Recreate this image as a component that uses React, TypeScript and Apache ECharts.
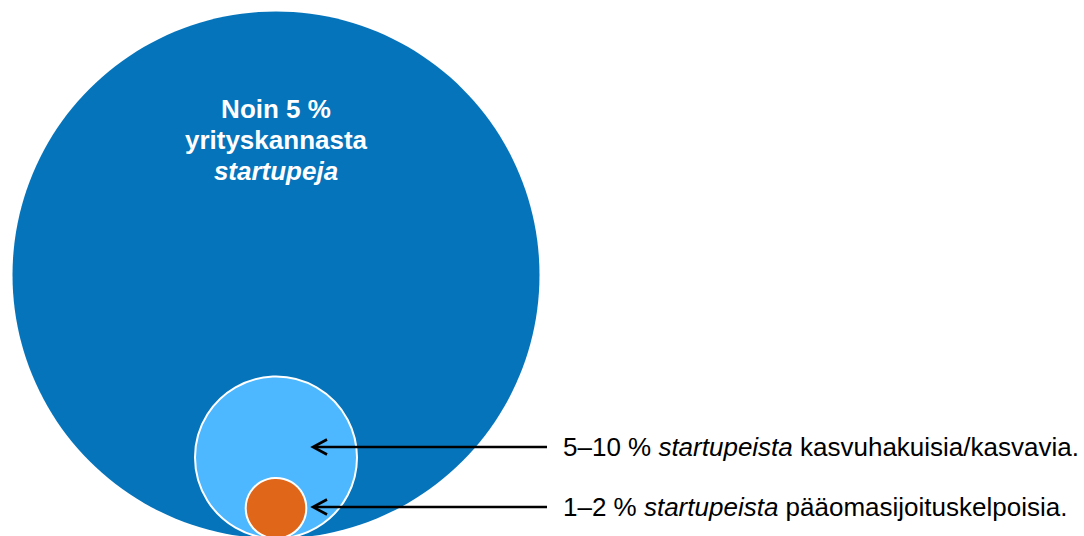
import React, { useEffect, useRef } from "react";
import * as echarts from "echarts";

// Nested circles, all touching at one bottom point (data units = px of a 1084x536 canvas)
const circleNames = ["Yrityskanta", "Kasvuhakuiset", "Pääomasijoituskelpoiset"];
const circleRadii = [263.5, 81, 30.3];
const circleColors = ["#0574BB", "#4DB8FF", "#E0661A"];
const tangentX = 276;
const tangentY = 538.5;

// Annotation arrows (y position in data units) and their labels
const arrowY = [447, 507];
const arrowTipX = 313;
const arrowTailX = 547;
const labelPrefix = ["5–10 %", "1–2 %"];
const labelItalic = ["startupeista", "startupeista"];
const labelSuffix = ["kasvuhakuisia/kasvavia.", "pääomasijoituskelpoisia."];

const titleLines = ["Noin 5 %", "yrityskannasta", "startupeja"];

const FONT = "'Liberation Sans', Arial, Helvetica, sans-serif";

export default function App() {
  const ref = useRef<HTMLDivElement>(null);
  useEffect(() => {
    document.body.style.margin = "0";
    const chart = echarts.init(ref.current!, null, { renderer: "svg" });
    const circleData = circleRadii.map((r, i) => ({ name: circleNames[i], value: [r, i] }));
    const arrowData = arrowY.map((y, i) => ({ value: [y, i] }));
    chart.setOption({
      animation: false,
      backgroundColor: "#ffffff",
      grid: { left: 0, right: 0, top: 0, bottom: 0 },
      xAxis: { type: "value", min: 0, max: 1084, show: false },
      yAxis: { type: "value", min: 0, max: 536, inverse: true, show: false },
      series: [
        {
          type: "custom",
          coordinateSystem: "cartesian2d",
          clip: false,
          data: circleData,
          renderItem: (params: any, api: any) => {
            const r = api.value(0);
            const i = api.value(1);
            const c = api.coord([tangentX, tangentY - r]);
            const rp = api.size([r, r])[0];
            const children: any[] = [
              {
                type: "circle",
                shape: { cx: c[0], cy: c[1], r: rp },
                style: {
                  fill: circleColors[i],
                  stroke: i === 0 ? null : "#ffffff",
                  lineWidth: i === 0 ? 0 : 2,
                },
              },
            ];
            if (i === 0) {
              const top = api.coord([tangentX, tangentY - 2 * r]);
              children.push({
                type: "text",
                x: c[0],
                y: top[1] + 82,
                style: {
                  text:
                    "{b|" + titleLines[0] + "}\n{b|" + titleLines[1] + "}\n{bi|" + titleLines[2] + "}",
                  align: "center",
                  verticalAlign: "top",
                  rich: {
                    b: { fontFamily: FONT, fontSize: 26, fontWeight: "bold", fill: "#ffffff", lineHeight: 31, align: "center" },
                    bi: {
                      fontFamily: FONT,
                      fontSize: 26,
                      fontWeight: "bold",
                      fontStyle: "italic",
                      fill: "#ffffff",
                      lineHeight: 31,
                      align: "center",
                    },
                  },
                },
              });
            }
            return { type: "group", children };
          },
        },
        {
          type: "custom",
          coordinateSystem: "cartesian2d",
          clip: false,
          data: arrowData,
          renderItem: (params: any, api: any) => {
            const y = api.value(0);
            const i = api.value(1);
            const tip = api.coord([arrowTipX, y]);
            const tail = api.coord([arrowTailX, y]);
            return {
              type: "group",
              children: [
                {
                  type: "line",
                  shape: { x1: tip[0] + 1, y1: tip[1], x2: tail[0], y2: tail[1] },
                  style: { stroke: "#000000", lineWidth: 2.5 },
                },
                {
                  type: "polyline",
                  shape: { points: [[tip[0] + 14, tip[1] - 7.5], [tip[0], tip[1]], [tip[0] + 14, tip[1] + 7.5]] },
                  style: { stroke: "#000000", lineWidth: 2.6, fill: null },
                },
                {
                  type: "text",
                  x: tail[0] + 16,
                  y: tail[1],
                  style: {
                    text: "{n|" + labelPrefix[i] + " }{it|" + labelItalic[i] + "}{n| " + labelSuffix[i] + "}",
                    align: "left",
                    verticalAlign: "middle",
                    rich: {
                      n: { fontFamily: FONT, fontSize: 26, fill: "#000000" },
                      it: { fontFamily: FONT, fontSize: 26, fontStyle: "italic", fill: "#000000" },
                    },
                  },
                },
              ],
            };
          },
        },
      ],
    });
    return () => chart.dispose();
  }, []);
  return <div ref={ref} style={{ width: 1084, height: 536 }} />;
}
